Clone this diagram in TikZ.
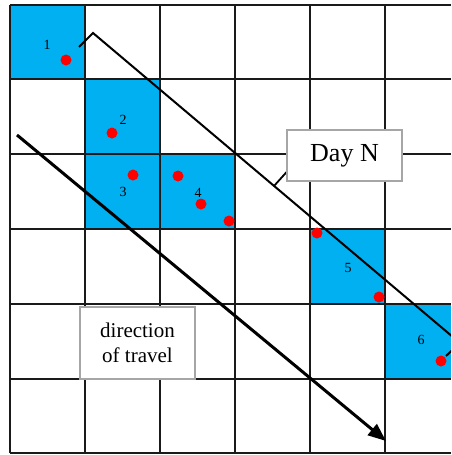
\documentclass[tikz,border=0pt]{standalone}
\usepackage{fontspec}
\setmainfont{Liberation Serif}
\usetikzlibrary{arrows.meta}
\definecolor{cellblue}{HTML}{00B0F0}
\definecolor{gridc}{HTML}{1A1A1A}
\definecolor{boxgray}{HTML}{A6A6A6}
\tikzset{
  cell/.style={fill=cellblue, draw=none},
  gridline/.style={draw=gridc, line width=2.4pt},
  dot/.style={circle, fill=red, draw=none, minimum size=11pt, inner sep=0pt},
  num/.style={font=\fontsize{14}{14}\selectfont, inner sep=0pt},
  labelbox/.style={draw=boxgray, line width=1.8pt, fill=white, align=center, inner sep=0pt},
  bracket/.style={draw=black, line width=2pt, line join=miter},
  travel/.style={draw=black, line width=3pt, -{Triangle[length=18pt,width=14pt]}}
}
\begin{document}
\begin{tikzpicture}[x=1pt,y=-1pt]
\clip (0,0) rectangle (451,455);
\fill[white] (0,0) rectangle (451,455);
% blue cells
\fill[cell] (10,5) rectangle (85,79);
\fill[cell] (85,79) rectangle (160,154);
\fill[cell] (85,154) rectangle (160,229);
\fill[cell] (160,154) rectangle (235,229);
\fill[cell] (310,229) rectangle (385,304);
\fill[cell] (385,304) rectangle (451,379);
% grid
\foreach \x in {10,85,160,235,310,385} \draw[gridline] (\x,5) -- (\x,453);
\foreach \y in {5,79,154,229,304,379,453} \draw[gridline] (10,\y) -- (451,\y);
% cell numbers
\node[num] (n1) at (47,45) {1};
\node[num] (n2) at (123,120) {2};
\node[num] (n3) at (123,192) {3};
\node[num] (n4) at (198,193) {4};
\node[num] (n5) at (348,268) {5};
\node[num] (n6) at (421,340) {6};
% dots
\node[dot] (d1) at (66,60) {};
\node[dot] (d2) at (112,133) {};
\node[dot] (d3) at (133,175) {};
\node[dot] (d4) at (178,176) {};
\node[dot] (d5) at (201,204) {};
\node[dot] (d6) at (229,221) {};
\node[dot] (d7) at (317,233) {};
\node[dot] (d8) at (379,297) {};
\node[dot] (d9) at (441,361) {};
% Day N bracket
\coordinate (bA) at (79,47);
\coordinate (bB) at (93,33);
\coordinate (bC) at (460,343);
\coordinate (bD) at (446,356);
\draw[bracket] (bA) -- (bB) -- (bC) -- (bD);
% callout
\coordinate (tick) at (274,186);
\coordinate (tickEnd) at (292,166);
\draw[line width=1.8pt] (tick) -- (tickEnd);
% label boxes
\node[labelbox, minimum width=115pt, minimum height=51pt, font=\fontsize{26}{28}\selectfont] (dayN) at (344.5,155.5) {Day N};
\node[labelbox, minimum width=115pt, minimum height=72pt, font=\fontsize{21}{25}\selectfont] (dir) at (137.5,343) {direction\\of travel};
% direction arrow
\coordinate (arrS) at (17,135);
\coordinate (arrE) at (386,441);
\draw[travel] (arrS) -- (arrE);
\end{tikzpicture}
\end{document}
